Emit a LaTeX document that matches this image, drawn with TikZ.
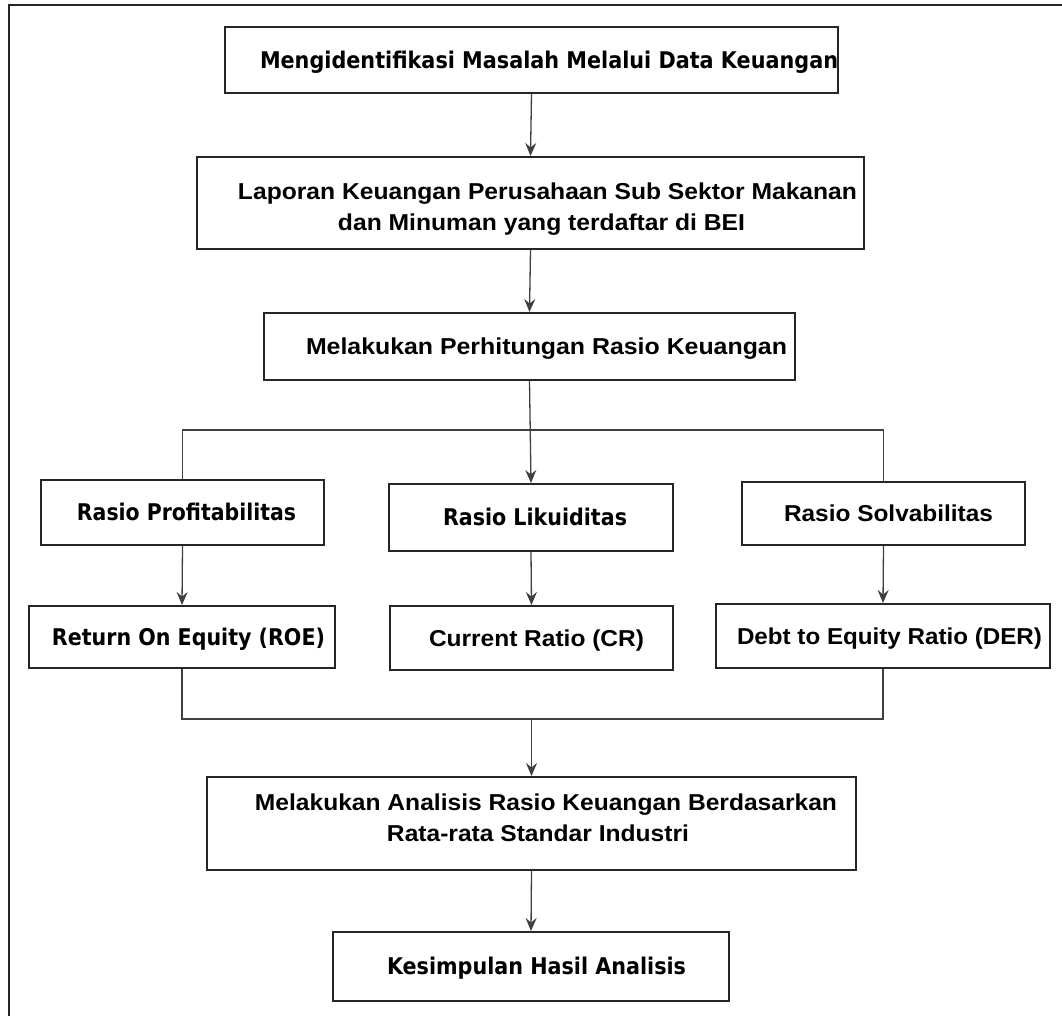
\documentclass[tikz,border=0pt]{standalone}
\usepackage{fontspec}
\usepackage{graphicx}
\setmainfont{DejaVu Sans}
\newfontfamily\dvfont{DejaVu Sans}
\newfontfamily\libfont{Liberation Sans}
\usetikzlibrary{arrows.meta}
\newcommand{\tw}[2]{\resizebox{#1pt}{\height}{#2}}
\tikzset{
  box/.style={draw=black!85, line width=2pt, inner sep=0pt, fill=white,
    font=\fontsize{23}{31}\selectfont\bfseries},
  oneline/.style={text height=16.5pt, text depth=0pt},
  dv/.append style={font=\fontsize{23}{31}\selectfont\dvfont\bfseries},
  lb/.append style={font=\fontsize{23}{31}\selectfont\libfont\bfseries},
  conn/.style={draw=black!75, line width=1.3pt},
  arr/.style={conn, -{Stealth[length=13pt,width=11pt,inset=4.5pt]}},
  frameline/.style={draw=black!85, line width=2pt}
}
\begin{document}
\begin{tikzpicture}[x=1pt,y=-1pt]
\useasboundingbox (0,0) rectangle (1062,1016);
\draw[frameline] (9,1016) -- (9,5) -- (1062,5);

\node[box, dv, oneline, minimum width=611pt, minimum height=66pt] (b1) at (531.5,60)
  {\hspace*{35pt}\tw{578}{Mengidentifikasi Masalah Melalui Data Keuangan}};
\node[box, lb, minimum width=667pt, minimum height=92pt] (b2) at (530.5,203)
  {\raisebox{0pt}[16.5pt][24pt]{\begin{tabular}[t]{@{}c@{}}\hspace*{34pt}\tw{619}{Laporan Keuangan Perusahaan Sub Sektor Makanan}\\\hspace*{22pt}\tw{407}{dan Minuman yang terdaftar di BEI}\end{tabular}}};
\node[box, lb, oneline, minimum width=531pt, minimum height=67pt] (b3) at (529.5,346.5)
  {\hspace*{34pt}\tw{481}{Melakukan Perhitungan Rasio Keuangan}};

\node[box, dv, oneline, minimum width=283pt, minimum height=65pt] (prof) at (182.5,512.5)
  {\hspace*{8pt}\tw{219}{Rasio Profitabilitas}};
\node[box, dv, oneline, minimum width=284pt, minimum height=67pt] (lik) at (531,517.5)
  {\hspace*{8pt}\tw{184}{Rasio Likuiditas}};
\node[box, lb, oneline, minimum width=283pt, minimum height=63pt] (solv) at (883.5,513.5)
  {\hspace*{10pt}\tw{209}{Rasio Solvabilitas}};

\node[box, dv, oneline, minimum width=306pt, minimum height=62pt] (roe) at (182,637)
  {\hspace*{13pt}\tw{273}{Return On Equity (ROE)}};
\node[box, lb, oneline, minimum width=283pt, minimum height=64pt] (cr) at (531.5,638)
  {\hspace*{10pt}\tw{215}{Current Ratio (CR)}};
\node[box, lb, oneline, minimum width=334pt, minimum height=64pt] (der) at (883,636)
  {\hspace*{13pt}\tw{305}{Debt to Equity Ratio (DER)}};

\node[box, lb, minimum width=649pt, minimum height=93pt] (ana) at (531.5,823.5)
  {\raisebox{0pt}[16.5pt][43.5pt]{\begin{tabular}[t]{@{}c@{}}\hspace*{29pt}\tw{582}{Melakukan Analisis Rasio Keuangan Berdasarkan}\\\hspace*{13pt}\tw{302}{Rata-rata Standar Industri}\end{tabular}}};
\node[box, dv, oneline, minimum width=396pt, minimum height=69pt] (kes) at (531,966.5)
  {\hspace*{11pt}\tw{299}{Kesimpulan Hasil Analisis}};

\coordinate (brY) at (0,430);
\coordinate (jnY) at (0,719);

\draw[arr] (b1.south) -- (b2.north);
\draw[arr] (b2.south) -- (b3.north);
\draw[conn] (prof.north) -- (prof.north |- brY) -- (solv.north |- brY) -- (solv.north);
\draw[arr] (b3.south) -- (lik.north);
\draw[arr] (prof.south) -- (roe.north);
\draw[arr] (lik.south) -- (cr.north);
\draw[arr] (solv.south) -- (der.north);
\draw[conn] (roe.south) -- (roe.south |- jnY) -- (der.south |- jnY) -- (der.south);
\draw[arr] (ana.north |- jnY) -- (ana.north);
\draw[arr] (ana.south) -- (kes.north);
\end{tikzpicture}
\end{document}
